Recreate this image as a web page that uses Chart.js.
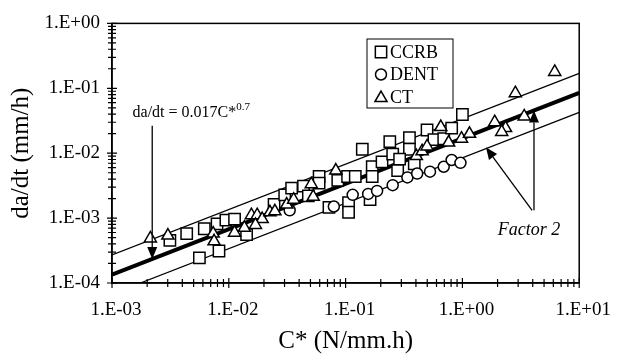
<!DOCTYPE html>
<html>
<head>
<meta charset="utf-8">
<script src="https://cdn.jsdelivr.net/npm/chart.js@4/dist/chart.umd.min.js"></script>
<style>
  body { margin: 0; background: #fff; }
  canvas { display: block; }
</style>
</head>
<body>
<canvas id="crack-chart" width="623" height="364"></canvas>
<script>
const serif = '"Liberation Serif", "Times New Roman", serif';

// C* (N/mm.h) and da/dt (mm/h)
const ccrbC = [0.00313, 0.00436, 0.0056, 0.00824, 0.00617, 0.00793, 0.00944, 0.0112, 0.0142, 0.0244,
  0.0301, 0.0345, 0.0436, 0.0593, 0.048, 0.072, 0.106, 0.106, 0.0857, 0.104,
  0.121, 0.139, 0.169, 0.169, 0.205, 0.162, 0.239, 0.253, 0.352, 0.352,
  0.29, 0.387, 0.279, 0.498, 0.57, 0.692, 0.809, 1.0, 0.0593];
const ccrbRate = [4.54e-4, 5.77e-4, 2.44e-4, 3.11e-4, 6.85e-4, 8.13e-4, 9.33e-4, 9.67e-4, 5.57e-4, 1.62e-3,
  2.28e-3, 2.90e-3, 3.11e-3, 4.38e-3, 2.2e-3, 1.46e-3, 1.73e-3, 1.23e-3, 3.82e-3, 4.38e-3,
  4.38e-3, 1.15e-2, 6.18e-3, 4.38e-3, 7.34e-3, 1.92e-3, 1.51e-2, 9.66e-3, 1.73e-2, 1.15e-2,
  8.13e-3, 6.85e-3, 5.39e-3, 2.28e-2, 1.62e-2, 1.67e-2, 2.44e-2, 3.95e-2, 3.45e-3];

const dentC = [0.0332, 0.0793, 0.115, 0.156, 0.186, 0.253, 0.338, 0.41, 0.528, 0.692, 0.809, 0.962];
const dentRate = [1.32e-3, 1.51e-3, 2.28e-3, 2.36e-3, 2.62e-3, 3.22e-3, 4.24e-3, 4.86e-3, 5.2e-3, 6.18e-3, 7.86e-3, 7.1e-3];

const ctC = [0.00213, 0.00301, 0.00735, 0.00748, 0.0112, 0.0136, 0.0156, 0.0175, 0.0193, 0.0169,
  0.0225, 0.0248, 0.0313, 0.0359, 0.0508, 0.0528, 0.0824, 0.403, 0.452, 0.498,
  0.653, 0.762, 0.982, 1.15, 1.89, 2.34, 2.17, 3.38, 2.84, 6.17];
const ctRate = [4.86e-4, 5.38e-4, 5.77e-4, 4.38e-4, 5.97e-4, 7.1e-4, 1.11e-3, 1.11e-3, 9.67e-4, 7.86e-4,
  1.23e-3, 1.27e-3, 1.62e-3, 1.92e-3, 3.33e-3, 2.13e-3, 5.39e-3, 9.02e-3, 1.07e-2, 1.27e-2,
  2.53e-2, 1.46e-2, 1.67e-2, 1.99e-2, 3.0e-2, 2.44e-2, 2.13e-2, 3.69e-2, 8.42e-2, 0.179];

// da/dt = 0.017 C*^0.7 and the factor 2 band, end points only
const fitC = [0.001, 10];
const fitMean = [1.35e-4, 0.0852];
const fitUpper = [2.7e-4, 0.170];
const fitLower = [6.75e-5, 0.0426];

const xTicks = [1e-3, 1e-2, 1e-1, 1, 10];
const yTicks = [1e-4, 1e-3, 1e-2, 1e-1, 1];

function toPoints(xs, ys) {
    return xs.map((x, i) => ({ x: x, y: ys[i] }));
}

function expLabel(value) {
    const e = Math.round(Math.log10(value));
    return '1.E' + (e < 0 ? '-' : '+') + String(Math.abs(e)).padStart(2, '0');
}

function arrow(ctx, x1, y1, x2, y2) {
    const ang = Math.atan2(y2 - y1, x2 - x1);
    const len = 12, half = 5;
    ctx.beginPath();
    ctx.moveTo(x1, y1);
    ctx.lineTo(x2 - Math.cos(ang) * len, y2 - Math.sin(ang) * len);
    ctx.stroke();
    ctx.beginPath();
    ctx.moveTo(x2, y2);
    ctx.lineTo(x2 - Math.cos(ang) * len - Math.sin(ang) * half, y2 - Math.sin(ang) * len + Math.cos(ang) * half);
    ctx.lineTo(x2 - Math.cos(ang) * len + Math.sin(ang) * half, y2 - Math.sin(ang) * len - Math.cos(ang) * half);
    ctx.closePath();
    ctx.fill();
}

const extras = {
    id: 'extras',
    afterDatasetsDraw(chart) {
        const ctx = chart.ctx;
        const area = chart.chartArea;
        const xs = chart.scales.x, ys = chart.scales.y;
        ctx.save();
        ctx.strokeStyle = '#000';
        ctx.fillStyle = '#000';

        // frame
        ctx.lineWidth = 1.5;
        ctx.strokeRect(area.left, area.top, area.right - area.left, area.bottom - area.top);

        // log ticks crossing the axes
        ctx.lineWidth = 1.2;
        ctx.beginPath();
        xTicks.slice(0, -1).forEach(d => {
            for (let k = 1; k <= 10; k++) {
                const px = xs.getPixelForValue(d * k);
                const h = k === 1 || k === 10 ? 5 : 4;
                ctx.moveTo(px, area.bottom - h);
                ctx.lineTo(px, area.bottom + h);
            }
        });
        yTicks.slice(0, -1).forEach(d => {
            for (let k = 1; k <= 10; k++) {
                const py = ys.getPixelForValue(d * k);
                const w = k === 1 || k === 10 ? 5 : 4;
                ctx.moveTo(area.left - w, py);
                ctx.lineTo(area.left + w, py);
            }
        });
        ctx.stroke();

        // equation and its arrow
        ctx.font = '16px ' + serif;
        ctx.textBaseline = 'alphabetic';
        ctx.textAlign = 'left';
        const eqX = xs.getPixelForValue(0.0015), eqY = ys.getPixelForValue(0.0365);
        const eqText = 'da/dt = 0.017C*';
        ctx.fillText(eqText, eqX, eqY);
        const w = ctx.measureText(eqText).width;
        ctx.font = '11px ' + serif;
        ctx.fillText('0.7', eqX + w, eqY - 7);
        ctx.lineWidth = 1.3;
        const ax = xs.getPixelForValue(0.00221);
        arrow(ctx, ax, ys.getPixelForValue(0.0265), ax, ys.getPixelForValue(2.35e-4));

        // factor 2 label and arrows
        ctx.font = 'italic 18px ' + serif;
        ctx.fillText('Factor 2', xs.getPixelForValue(2.01), ys.getPixelForValue(5.57e-4));
        const fx = xs.getPixelForValue(4.1);
        arrow(ctx, fx, ys.getPixelForValue(1.32e-3), fx, ys.getPixelForValue(0.0454));
        arrow(ctx, xs.getPixelForValue(3.95), ys.getPixelForValue(1.32e-3),
            xs.getPixelForValue(1.59), ys.getPixelForValue(0.0123));

        // legend box
        const lx = 367, ly = 39;
        ctx.fillStyle = '#fff';
        ctx.fillRect(lx, ly, 86, 69);
        ctx.lineWidth = 1;
        ctx.strokeRect(lx, ly, 86, 69);
        const items = [['CCRB', 'rect', 8], ['DENT', 'circle', 5.5], ['CT', 'triangle', 7]];
        ctx.font = '18px ' + serif;
        ctx.textBaseline = 'middle';
        items.forEach((it, i) => {
            const cy = 52 + i * 22.5;
            ctx.fillStyle = '#fff';
            ctx.strokeStyle = '#000';
            ctx.lineWidth = 1.5;
            Chart.helpers.drawPoint(ctx, { pointStyle: it[1], radius: it[2], rotation: 0, borderWidth: 1.5 }, 381, cy + (it[1] === 'triangle' ? 1 : 0));
            ctx.fillStyle = '#000';
            ctx.fillText(it[0], 390, cy + 1);
        });
        ctx.restore();
    }
};

function markerSet(label, xs, ys, style, r) {
    return {
        type: 'scatter',
        label: label,
        data: toPoints(xs, ys),
        pointStyle: style,
        pointRadius: r,
        pointBorderWidth: 1.5,
        pointBorderColor: '#000',
        pointBackgroundColor: '#fff',
        showLine: false
    };
}

function fitLine(label, ys, width) {
    return {
        type: 'line',
        label: label,
        data: toPoints(fitC, ys),
        borderColor: '#000',
        borderWidth: width,
        pointRadius: 0,
        fill: false
    };
}

function axis(min, max, ticks, title, isY) {
    return {
        type: 'logarithmic',
        min: min,
        max: max,
        afterBuildTicks(scale) {
            scale.ticks = ticks.map(v => ({ value: v, major: true }));
        },
        afterFit(scale) {
            if (isY) scale.width = 112;
            else scale.height = 81;
        },
        ticks: {
            callback: expLabel,
            autoSkip: false,
            maxRotation: 0,
            color: '#000',
            font: { family: serif, size: 19 },
            padding: isY ? 12 : 16,
            labelOffset: isY ? 0 : 4
        },
        grid: { display: true, drawOnChartArea: false, drawTicks: false },
        border: { display: true, color: '#000', width: 1.5 },
        title: {
            display: true,
            text: title,
            color: '#000',
            font: { family: serif, size: 25 },
            padding: isY ? { top: 6, bottom: 0 } : { top: 0, bottom: 8 }
        }
    };
}

new Chart(document.getElementById('crack-chart'), {
    type: 'scatter',
    data: {
        datasets: [
            markerSet('CT', ctC, ctRate, 'triangle', 7),
            markerSet('DENT', dentC, dentRate, 'circle', 5.5),
            markerSet('CCRB', ccrbC, ccrbRate, 'rect', 8),
            fitLine('Mean', fitMean, 4),
            fitLine('Upper', fitUpper, 1.2),
            fitLine('Lower', fitLower, 1.2)
        ]
    },
    options: {
        responsive: false,
        animation: false,
        devicePixelRatio: 1,
        layout: { padding: { top: 15, right: 35, left: 0, bottom: 0 } },
        plugins: { legend: { display: false }, tooltip: { enabled: false } },
        scales: {
            x: axis(1e-3, 10, xTicks, 'C* (N/mm.h)', false),
            y: axis(1e-4, 1, yTicks, 'da/dt (mm/h)', true)
        }
    },
    plugins: [extras]
});
</script>
</body>
</html>
